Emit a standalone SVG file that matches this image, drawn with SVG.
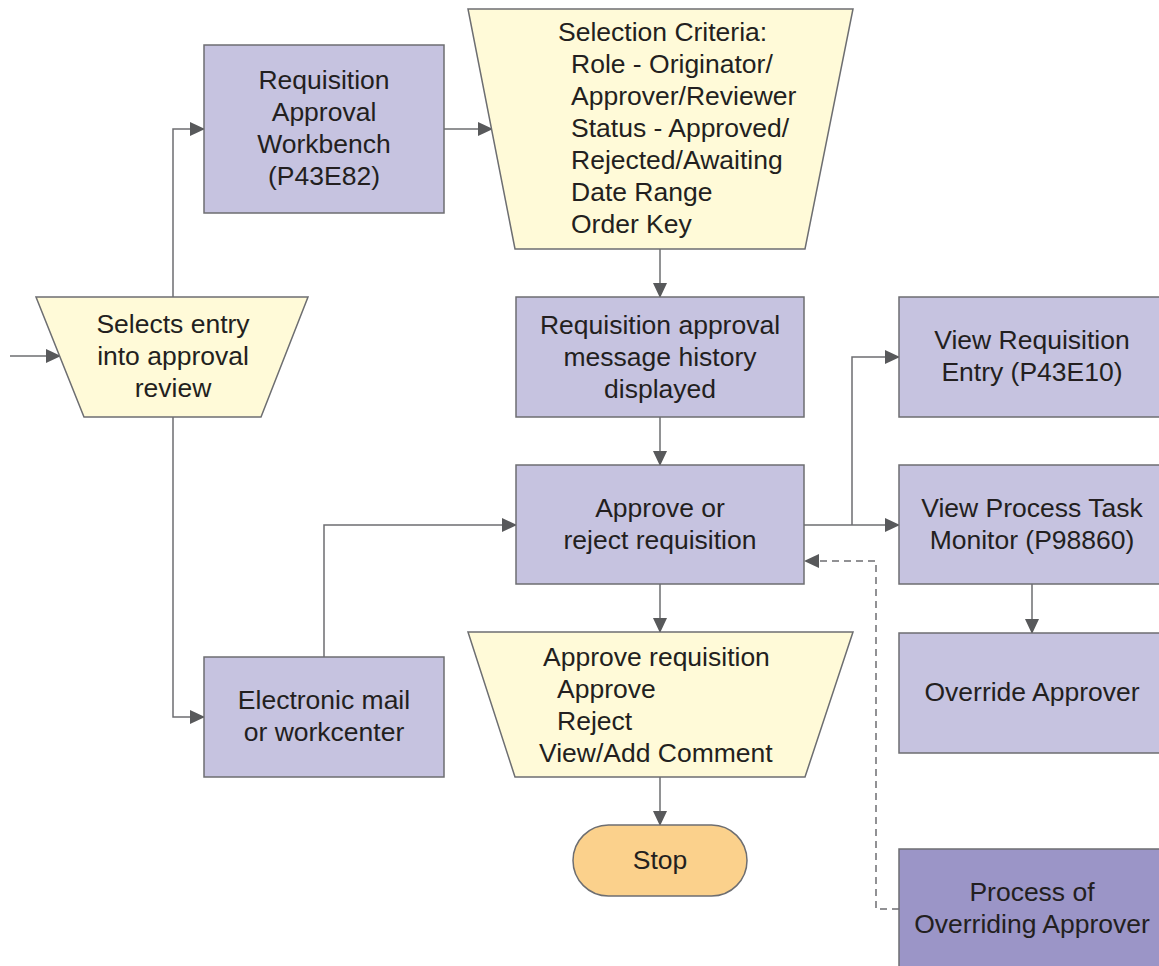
<svg xmlns="http://www.w3.org/2000/svg" width="1159" height="966" viewBox="0 0 1159 966">
<style>
.box{fill:#c6c3e0;stroke:#6d6e71;stroke-width:1.5}
.dark{fill:#9b95c7;stroke:#6d6e71;stroke-width:1.5}
.io{fill:#fffad8;stroke:#6d6e71;stroke-width:1.5}
.stop{fill:#fbd18c;stroke:#6d6e71;stroke-width:1.5}
text{font-family:"Liberation Sans",Arial,sans-serif;font-size:26.5px;fill:#231f20}
.c{text-anchor:middle}
.ln{fill:none;stroke:#6d6e71;stroke-width:1.5}
.dash{fill:none;stroke:#6d6e71;stroke-width:1.5;stroke-dasharray:7 5}
</style>
<defs>
<marker id="ah" markerWidth="15" markerHeight="14" refX="14" refY="7" orient="auto" markerUnits="userSpaceOnUse">
<path d="M0,0 L15,7 L0,14 z" fill="#58595b"/>
</marker>
</defs>
<g id="connectors">
<path class="ln" d="M10,356 L60,356" marker-end="url(#ah)"/>
<path class="ln" d="M173,297 L173,129 L204,129" marker-end="url(#ah)"/>
<path class="ln" d="M444,129 L492,129" marker-end="url(#ah)"/>
<path class="ln" d="M660,249 L660,297" marker-end="url(#ah)"/>
<path class="ln" d="M660,417 L660,465" marker-end="url(#ah)"/>
<path class="ln" d="M173,417 L173,717 L204,717" marker-end="url(#ah)"/>
<path class="ln" d="M324,657 L324,525 L516,525" marker-end="url(#ah)"/>
<path class="ln" d="M804,525 L899,525" marker-end="url(#ah)"/>
<path class="ln" d="M852,525 L852,357 L899,357" marker-end="url(#ah)"/>
<path class="ln" d="M1032,584 L1032,633" marker-end="url(#ah)"/>
<path class="ln" d="M660,584 L660,632" marker-end="url(#ah)"/>
<path class="ln" d="M660,777 L660,825" marker-end="url(#ah)"/>
<path class="dash" d="M899,909 L876,909 L876,561 L805,561" marker-end="url(#ah)"/>
</g>
<g id="selects-entry">
<polygon class="io" points="36,297 308,297 261,417 84,417"/>
<text class="c" x="173" y="333">Selects entry</text>
<text class="c" x="173" y="365">into approval</text>
<text class="c" x="173" y="397">review</text>
</g>
<g id="workbench">
<rect class="box" x="204" y="45" width="240" height="168"/>
<text class="c" x="324" y="89">Requisition</text>
<text class="c" x="324" y="121">Approval</text>
<text class="c" x="324" y="153">Workbench</text>
<text class="c" x="324" y="185">(P43E82)</text>
</g>
<g id="selection-criteria">
<polygon class="io" points="468,9 853,9 805,249 515,249"/>
<text x="558" y="41">Selection Criteria:</text>
<text x="571" y="73">Role - Originator/</text>
<text x="571" y="105">Approver/Reviewer</text>
<text x="571" y="137">Status - Approved/</text>
<text x="571" y="169">Rejected/Awaiting</text>
<text x="571" y="201">Date Range</text>
<text x="571" y="233">Order Key</text>
</g>
<g id="history">
<rect class="box" x="516" y="297" width="288" height="120"/>
<text class="c" x="660" y="334">Requisition approval</text>
<text class="c" x="660" y="366">message history</text>
<text class="c" x="660" y="398">displayed</text>
</g>
<g id="approve-reject">
<rect class="box" x="516" y="465" width="288" height="119"/>
<text class="c" x="660" y="517">Approve or</text>
<text class="c" x="660" y="549">reject requisition</text>
</g>
<g id="electronic-mail">
<rect class="box" x="204" y="657" width="240" height="120"/>
<text class="c" x="324" y="709">Electronic mail</text>
<text class="c" x="324" y="741">or workcenter</text>
</g>
<g id="approve-requisition">
<polygon class="io" points="468,632 853,632 805,777 515,777"/>
<text x="543" y="666">Approve requisition</text>
<text x="557" y="698">Approve</text>
<text x="557" y="730">Reject</text>
<text x="539" y="762">View/Add Comment</text>
</g>
<g id="stop">
<rect class="stop" x="573" y="825" width="174" height="71" rx="35.5" ry="35.5"/>
<text class="c" x="660" y="869">Stop</text>
</g>
<g id="view-requisition-entry">
<rect class="box" x="899" y="297" width="275" height="120"/>
<text class="c" x="1032" y="349">View Requisition</text>
<text class="c" x="1032" y="381">Entry (P43E10)</text>
</g>
<g id="view-process-task-monitor">
<rect class="box" x="899" y="465" width="275" height="119"/>
<text class="c" x="1032" y="517">View Process Task</text>
<text class="c" x="1032" y="549">Monitor (P98860)</text>
</g>
<g id="override-approver">
<rect class="box" x="899" y="633" width="275" height="120"/>
<text class="c" x="1032" y="701">Override Approver</text>
</g>
<g id="process-overriding">
<rect class="dark" x="899" y="849" width="275" height="130"/>
<text class="c" x="1032" y="901">Process of</text>
<text class="c" x="1032" y="933">Overriding Approver</text>
</g>
</svg>
